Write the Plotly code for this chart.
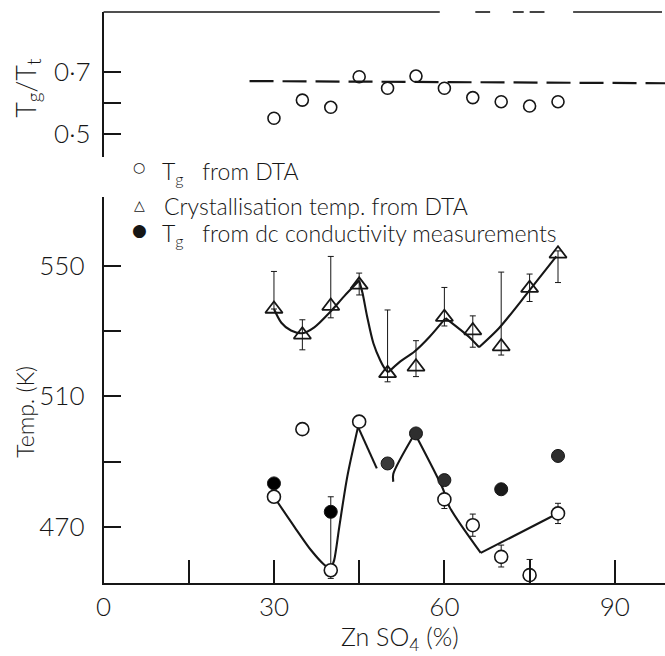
import plotly.graph_objects as go

# ---------------- data ----------------
comp = [30, 35, 40, 45, 50, 55, 60, 65, 70, 75, 80]

# top panel: Tg/Tt
ratio = [0.551, 0.609, 0.586, 0.684, 0.647, 0.686, 0.647, 0.617, 0.604, 0.590, 0.604]
ratio_mean_x = [25.7, 99]
ratio_mean_y = [0.670, 0.663]

# crystallisation temperature (triangles)
tc = [536.7, 528.8, 537.6, 544.1, 517.0, 519.0, 534.2, 530.1, 525.2, 543.1, 553.6]
tc_plus = [11.5, 4.6, 15.2, 3.6, 19.4, 8.0, 9.1, 4.5, 22.8, 4.3, 0.9]
tc_minus = [0, 4.6, 3.6, 3.1, 2.6, 3.0, 2.7, 5.1, 2.6, 4.1, 8.8]
tc_curve1_x = [30, 31.3, 33.0, 35.0, 37.1, 40.0, 42.3, 45.0]
tc_curve1_y = [536.7, 532.5, 530.1, 529.3, 531.1, 536.0, 540.5, 545.4]
tc_curve2_x = [45.0, 45.6, 46.4, 47.5, 48.7, 49.6, 50.1]
tc_curve2_y = [545.4, 541.5, 534.4, 526.2, 521.0, 518.2, 517.3]
tc_curve3_x = [50.1, 52.2, 54.7, 57.4, 60.2]
tc_curve3_y = [517.3, 520.6, 523.6, 528.2, 533.9]
tc_curve4_x = [60.2, 64.3, 66.1]
tc_curve4_y = [533.9, 528.2, 525.0]
tc_curve5_x = [66.1, 69.6, 74.8, 79.7]
tc_curve5_y = [525.0, 530.8, 542.0, 552.8]

# Tg from DTA (open circles)
tg_x = [30, 35, 40, 45, 60, 65, 70, 75, 80]
tg = [479.2, 499.9, 456.7, 502.2, 478.4, 470.5, 460.8, 455.2, 474.1]
tg_plus = [0, 0, 22.5, 0, 1.5, 3.4, 3.6, 4.8, 3.1]
tg_minus = [0, 0, 2.5, 0, 2.8, 3.4, 3.1, 0, 3.1]
tg_curve1_x = [30, 33.6, 36.5, 38.9, 40.0]
tg_curve1_y = [479.2, 470.0, 462.9, 458.3, 457.0]
tg_curve2_x = [40.0, 40.6, 41.5, 42.9, 44.8]
tg_curve2_y = [457.0, 459.8, 470.0, 485.3, 500.6]
tg_curve3_x = [44.8, 48.1]
tg_curve3_y = [500.6, 487.9]
tg_curve4_x = [51.0, 51.0, 54.8]
tg_curve4_y = [483.8, 486.2, 498.6]
tg_curve5_x = [54.8, 59.7, 60.9, 66.4]
tg_curve5_y = [498.6, 481.8, 476.1, 462.0]
tg_curve6_x = [66.4, 79.4]
tg_curve6_y = [462.0, 473.6]

# Tg from dc conductivity (filled circles)
tgdc_x = [30, 40, 50, 55, 60, 70, 80]
tgdc = [483.3, 474.6, 489.4, 498.6, 484.3, 481.5, 491.7]
tgdc_col = ['#000000', '#000000', '#3a3a3a', '#2e2e2e', '#2e2e2e', '#1a1a1a', '#2e2e2e']

x_ticks = [0, 15, 30, 45, 60, 75, 90]
x_ticktext = ['0', '', '30', '', '60', '', '90']
y_ticks = [470, 490, 510, 530, 550]
y_ticktext = ['470', '', '510', '', '550']
r_ticks = [0.5, 0.6, 0.7]
r_ticktext = ['0·5', '', '0·7']

# ---------------- layout helpers ----------------
W, H = 665, 656
def px(v):
    return v / W
def py(v):
    return 1 - v / H

FONT = 'Lato'
INK = '#161616'
X0 = 96.7
XMAX = (W - X0) / 5.75

fig = go.Figure()

# top panel
fig.add_trace(go.Scatter(x=ratio_mean_x, y=ratio_mean_y, mode='lines',
                         line=dict(color=INK, width=2.2, dash='24px,9px'),
                         xaxis='x2', yaxis='y2', showlegend=False, hoverinfo='skip'))
fig.add_trace(go.Scatter(x=comp, y=ratio, mode='markers',
                         marker=dict(symbol='circle-open', size=12, color=INK, line=dict(width=1.6)),
                         xaxis='x2', yaxis='y2', showlegend=False))

# main panel curves
for cx, cy in [(tc_curve1_x, tc_curve1_y), (tc_curve2_x, tc_curve2_y), (tc_curve3_x, tc_curve3_y),
               (tc_curve4_x, tc_curve4_y), (tc_curve5_x, tc_curve5_y),
               (tg_curve1_x, tg_curve1_y), (tg_curve2_x, tg_curve2_y), (tg_curve3_x, tg_curve3_y),
               (tg_curve4_x, tg_curve4_y), (tg_curve5_x, tg_curve5_y), (tg_curve6_x, tg_curve6_y)]:
    fig.add_trace(go.Scatter(x=cx, y=cy, mode='lines',
                             line=dict(color=INK, width=2.1, shape='spline', smoothing=0.8),
                             showlegend=False, hoverinfo='skip'))

# triangles
fig.add_trace(go.Scatter(x=comp, y=tc, mode='markers',
                         marker=dict(symbol='triangle-up-open', size=15, color=INK, line=dict(width=1.8)),
                         error_y=dict(type='data', symmetric=False, array=tc_plus, arrayminus=tc_minus,
                                      color=INK, thickness=1, width=3),
                         showlegend=False))
# open circles
fig.add_trace(go.Scatter(x=tg_x, y=tg, mode='markers',
                         marker=dict(symbol='circle', size=13, color='white', line=dict(width=1.6, color=INK)),
                         error_y=dict(type='data', symmetric=False, array=tg_plus, arrayminus=tg_minus,
                                      color=INK, thickness=1, width=3),
                         showlegend=False))
# filled circles
fig.add_trace(go.Scatter(x=tgdc_x, y=tgdc, mode='markers',
                         marker=dict(symbol='circle', size=13, color=tgdc_col, line=dict(width=1, color=INK)),
                         showlegend=False))

tickfont = dict(family=FONT, size=26, color=INK, weight=300)

fig.update_layout(
    width=W, height=H, margin=dict(l=0, r=0, t=0, b=0),
    paper_bgcolor='white', plot_bgcolor='rgba(0,0,0,0)',
    font=dict(family=FONT, color=INK),
    xaxis=dict(domain=[px(X0), 1], range=[0, XMAX], showgrid=False, zeroline=False,
               showline=True, linecolor=INK, linewidth=1.6,
               ticks='inside', ticklen=24, tickwidth=1.6, tickcolor=INK,
               tickvals=x_ticks, ticktext=x_ticktext, tickfont=tickfont,
               ticklabelstandoff=0, anchor='y'),
    yaxis=dict(domain=[py(583.3), py(197)], range=[452.7, 571], showgrid=False, zeroline=False,
               showline=True, linecolor=INK, linewidth=1.6,
               ticks='inside', ticklen=18, tickwidth=1.6, tickcolor=INK,
               tickvals=y_ticks, ticktext=y_ticktext, tickfont=tickfont,
               ticklabelstandoff=12, anchor='x'),
    xaxis2=dict(domain=[px(X0), 1], range=[0, XMAX], visible=False, anchor='y2'),
    yaxis2=dict(domain=[py(157), py(12)], range=[0.427, 0.891], showgrid=False, zeroline=False,
                showline=True, linecolor=INK, linewidth=1.6,
                ticks='inside', ticklen=18, tickwidth=1.6, tickcolor=INK,
                tickvals=r_ticks, ticktext=r_ticktext, tickfont=tickfont,
                ticklabelstandoff=6, anchor='x2'),
)

# top frame line of upper panel (scanned, partly broken)
top_segments = [(X0, 437), (473, 488), (511, 522), (528, 543), (572, 662)]
for a, b in top_segments:
    fig.add_shape(type='line', xref='paper', yref='paper', x0=px(a), x1=px(b), y0=py(12), y1=py(12),
                  line=dict(color=INK, width=1.6))

ann = []
ann.append(dict(x=px(19), y=py(88), text='T<sub>g</sub>/T<sub>t</sub>', textangle=-90,
                font=dict(family=FONT, size=27, color=INK, weight=300)))
ann.append(dict(x=px(17), y=py(412), text='Temp. (K)', textangle=-90,
                font=dict(family=FONT, size=23, color=INK, weight=300)))
ann.append(dict(x=px(397), y=py(638), text='Zn SO<sub>4</sub> (%)',
                font=dict(family=FONT, size=25, color=INK, weight=300)))
# legend
lf = dict(family=FONT, size=23, color=INK, weight=300)
ann.append(dict(x=px(133), y=py(167), text='○', font=dict(family='DejaVu Sans', size=14, color=INK)))
ann.append(dict(x=px(133), y=py(205), text='△', font=dict(family='DejaVu Sans', size=14, color=INK)))
ann.append(dict(x=px(133), y=py(230), text='●', font=dict(family='DejaVu Sans', size=17, color=INK)))
ann.append(dict(x=px(154), y=py(173), xanchor='left', text='T<sub>g</sub>\u00a0\u00a0\u00a0from DTA', font=lf))
ann.append(dict(x=px(156), y=py(206), xanchor='left', text='Crystallisation temp. from DTA', font=lf))
ann.append(dict(x=px(154), y=py(234), xanchor='left', text='T<sub>g</sub>\u00a0\u00a0\u00a0from dc conductivity measurements', font=lf))
for a in ann:
    a.setdefault('xanchor', 'center')
    a.update(xref='paper', yref='paper', yanchor='middle', showarrow=False)
fig.update_layout(annotations=ann)

fig.write_html('out.html')
